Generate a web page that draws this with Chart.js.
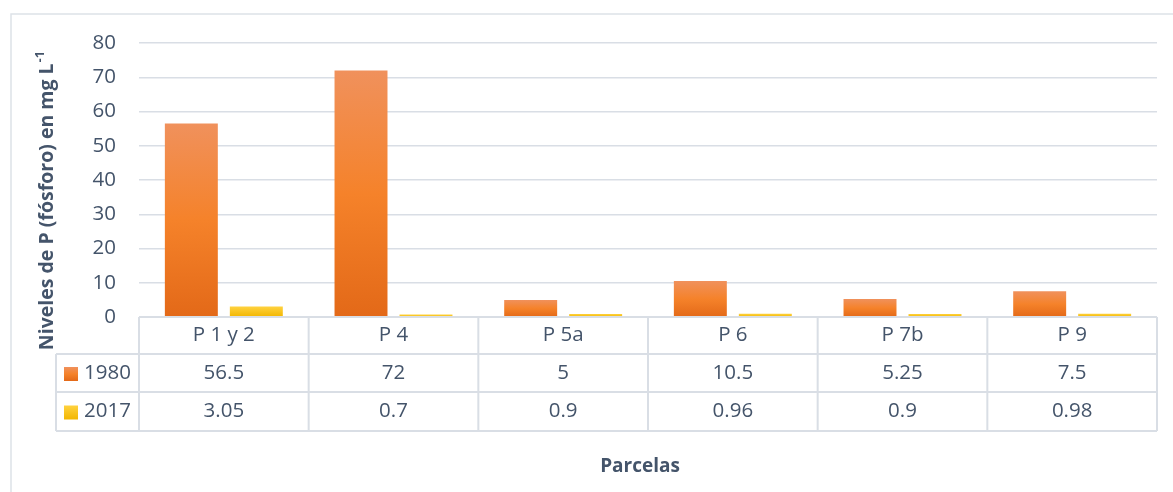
<!DOCTYPE html>
<html lang="es">
<head>
<meta charset="UTF-8">
<title>Niveles de P</title>
<style>
  html, body { margin: 0; padding: 0; background: #fff; }
  #wrap { width: 1173px; height: 492px; }
</style>
</head>
<body>
<div id="wrap"><canvas id="myChart"></canvas></div>
<script src="https://cdn.jsdelivr.net/npm/chart.js"></script>
<script>
const parcelas = ['P 1 y 2', 'P 4', 'P 5a', 'P 6', 'P 7b', 'P 9'];
const serieNames = ['1980', '2017'];
const valores1980 = [56.5, 72, 5, 10.5, 5.25, 7.5];
const valores2017 = [3.05, 0.7, 0.9, 0.96, 0.9, 0.98];
const etiquetas1980 = ['56.5', '72', '5', '10.5', '5.25', '7.5'];
const etiquetas2017 = ['3.05', '0.7', '0.9', '0.96', '0.9', '0.98'];
const yMax = 80;
const yStep = 10;

const textColor = '#44546A';
const lineColor = '#D9DEE5';
const fontName = '"Open Sans", "Noto Sans", sans-serif';

function naranja(ctx, top, bot) {
  const g = ctx.createLinearGradient(0, top, 0, bot);
  g.addColorStop(0, '#F0915C');
  g.addColorStop(0.5, '#F5822A');
  g.addColorStop(1, '#E36918');
  return g;
}
function amarillo(ctx, top, bot) {
  const g = ctx.createLinearGradient(0, top, 0, bot);
  g.addColorStop(0, '#FFD23F');
  g.addColorStop(1, '#F2B600');
  return g;
}

function barFill(maker, solid) {
  return function (c) {
    const ch = c.chart;
    if (!ch.chartArea || !ch.scales.y) return solid;
    const y = ch.scales.y;
    const top = y.getPixelForValue(c.raw);
    const bot = y.getPixelForValue(0);
    if (!isFinite(top) || bot - top < 1) return solid;
    return maker(ch.ctx, top, bot);
  };
}

// tabla de datos, marco y títulos
const tablaPlugin = {
  id: 'tabla',
  afterDraw(chart) {
    const ctx = chart.ctx;
    const x = chart.scales.x;
    const area = chart.chartArea;
    const n = parcelas.length;
    const half = (x.getPixelForValue(1) - x.getPixelForValue(0)) / 2;
    const r0 = area.bottom, r1 = r0 + 37, r2 = r1 + 38, r3 = r2 + 39;
    const leftCol = 56;

    ctx.save();
    // marco exterior
    ctx.strokeStyle = '#DDE2E8';
    ctx.lineWidth = 1.5;
    ctx.beginPath();
    ctx.moveTo(11, 492); ctx.lineTo(11, 14); ctx.lineTo(1173, 14);
    ctx.stroke();

    // líneas de la tabla
    ctx.strokeStyle = lineColor;
    ctx.lineWidth = 2;
    ctx.beginPath();
    ctx.moveTo(area.left, r0); ctx.lineTo(area.right, r0);
    ctx.moveTo(leftCol, r1); ctx.lineTo(area.right, r1);
    ctx.moveTo(leftCol, r2); ctx.lineTo(area.right, r2);
    ctx.moveTo(leftCol, r3); ctx.lineTo(area.right, r3);
    ctx.moveTo(leftCol, r1); ctx.lineTo(leftCol, r3);
    for (let i = 0; i < n; i++) {
      const bx = x.getPixelForValue(i) - half;
      ctx.moveTo(bx, r0); ctx.lineTo(bx, r3);
    }
    ctx.moveTo(area.right, r0); ctx.lineTo(area.right, r3);
    ctx.stroke();

    // textos de la tabla
    ctx.fillStyle = textColor;
    ctx.font = '20.5px ' + fontName;
    ctx.textAlign = 'center';
    ctx.textBaseline = 'middle';
    for (let i = 0; i < n; i++) {
      const cx = x.getPixelForValue(i);
      ctx.fillText(parcelas[i], cx, (r0 + r1) / 2);
      ctx.fillText(etiquetas1980[i], cx, (r1 + r2) / 2);
      ctx.fillText(etiquetas2017[i], cx, (r2 + r3) / 2);
    }

    // leyenda en la tabla
    const rows = [[r1, r2, naranja], [r2, r3, amarillo]];
    rows.forEach((r, k) => {
      const cy = (r[0] + r[1]) / 2 + 1;
      ctx.fillStyle = r[2](ctx, cy - 7, cy + 7);
      ctx.fillRect(64, cy - 7, 14, 14);
      ctx.fillStyle = textColor;
      ctx.textAlign = 'left';
      ctx.fillText(serieNames[k], 84, cy - 1);
    });

    // título del eje y (con superíndice)
    const main = 'Niveles de P (fósforo) en mg L';
    const sup = '-1';
    ctx.font = 'bold 19.5px ' + fontName;
    const wMain = ctx.measureText(main).width;
    ctx.font = 'bold 13px ' + fontName;
    const wSup = ctx.measureText(sup).width;
    const total = wMain + wSup;
    const cyTitle = 201;
    ctx.translate(53, cyTitle);
    ctx.rotate(-Math.PI / 2);
    ctx.textAlign = 'left';
    ctx.textBaseline = 'alphabetic';
    ctx.font = 'bold 19.5px ' + fontName;
    ctx.fillText(main, -total / 2, 0);
    ctx.font = 'bold 13px ' + fontName;
    ctx.fillText(sup, -total / 2 + wMain + 1, -9);
    ctx.setTransform(1, 0, 0, 1, 0, 0);

    // título del eje x
    ctx.font = 'bold 19px ' + fontName;
    ctx.textAlign = 'center';
    ctx.textBaseline = 'middle';
    ctx.fillText('Parcelas', (area.left + area.right) / 2 - 8, 467);
    ctx.restore();
  }
};

new Chart(document.getElementById('myChart'), {
  type: 'bar',
  data: {
    labels: parcelas,
    datasets: [{
      label: serieNames[0],
      data: valores1980,
      backgroundColor: barFill(naranja, '#F07C2A'),
      categoryPercentage: 0.766,
      barPercentage: 0.815
    }, {
      label: serieNames[1],
      data: valores2017,
      backgroundColor: barFill(amarillo, '#FBC21B'),
      categoryPercentage: 0.766,
      barPercentage: 0.815
    }]
  },
  options: {
    responsive: true,
    maintainAspectRatio: false,
    animation: false,
    layout: { padding: { top: 43, right: 16, bottom: 175, left: 0 } },
    plugins: {
      legend: { display: false },
      tooltip: { enabled: false }
    },
    scales: {
      x: { display: false },
      y: {
        min: 0,
        max: yMax,
        afterFit(s) { s.width = 139; },
        ticks: {
          stepSize: yStep,
          padding: 23,
          color: textColor,
          font: { family: fontName, size: 20.5 }
        },
        grid: { color: lineColor, lineWidth: 1.5, drawTicks: false },
        border: { display: false }
      }
    }
  },
  plugins: [tablaPlugin]
});
</script>
</body>
</html>
